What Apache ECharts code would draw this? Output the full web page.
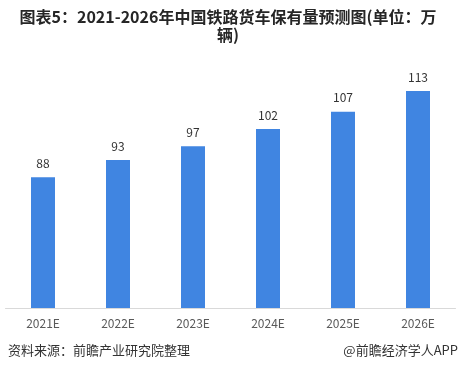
<!DOCTYPE html>
<html><head><meta charset="utf-8">
<script src="https://cdn.jsdelivr.net/npm/echarts@6/dist/echarts.min.js"></script>
<style>html,body{margin:0;padding:0;background:#fff;}#c{width:458px;height:372px;}</style>
</head><body><div id="c"></div>
<script>
var categories = ['2021E','2022E','2023E','2024E','2025E','2026E'];
var values = [88, 93, 97, 102, 107, 113];
var titleText = '图表5：2021-2026年中国铁路货车保有量预测图(单位：万\n辆)';
var sourceText = '资料来源：前瞻产业研究院整理';
var brandText = '@前瞻经济学人APP';

var chart = echarts.init(document.getElementById('c'));
chart.setOption({
  animation: false,
  backgroundColor: '#fff',
  textStyle: {fontFamily: '"Noto Sans CJK SC", "Noto Sans", sans-serif'},
  graphic: [
    {type: 'text', x: 228, y: 8, style: {text: titleText, textAlign: 'center', fontSize: 16, fontWeight: 'bold', fill: '#262626', lineHeight: 18, fontFamily: '"Noto Sans CJK SC", sans-serif'}},
    {type: 'text', left: 8, top: 344, style: {text: sourceText, fontSize: 13, fill: '#333', fontFamily: '"Noto Sans CJK SC", sans-serif'}},
    {type: 'text', right: 0, top: 344, style: {text: brandText, fontSize: 13, fill: '#333', fontFamily: '"Noto Sans CJK SC", sans-serif'}}
  ],
  grid: {left: 5.5, right: 2.5, top: 67, bottom: 64, containLabel: false},
  xAxis: {
    type: 'category', data: categories,
    axisLine: {lineStyle: {color: '#d9d9d9'}},
    axisTick: {show: false},
    axisLabel: {color: '#595959', fontSize: 12, margin: 9}
  },
  yAxis: {
    type: 'value', min: 50, max: 120, show: false,
    splitLine: {show: false}
  },
  series: [{
    type: 'bar', data: values, barWidth: 24,
    itemStyle: {color: '#4085E1'},
    label: {show: true, position: 'top', distance: 8, color: '#333', fontSize: 12}
  }]
});
</script></body></html>
